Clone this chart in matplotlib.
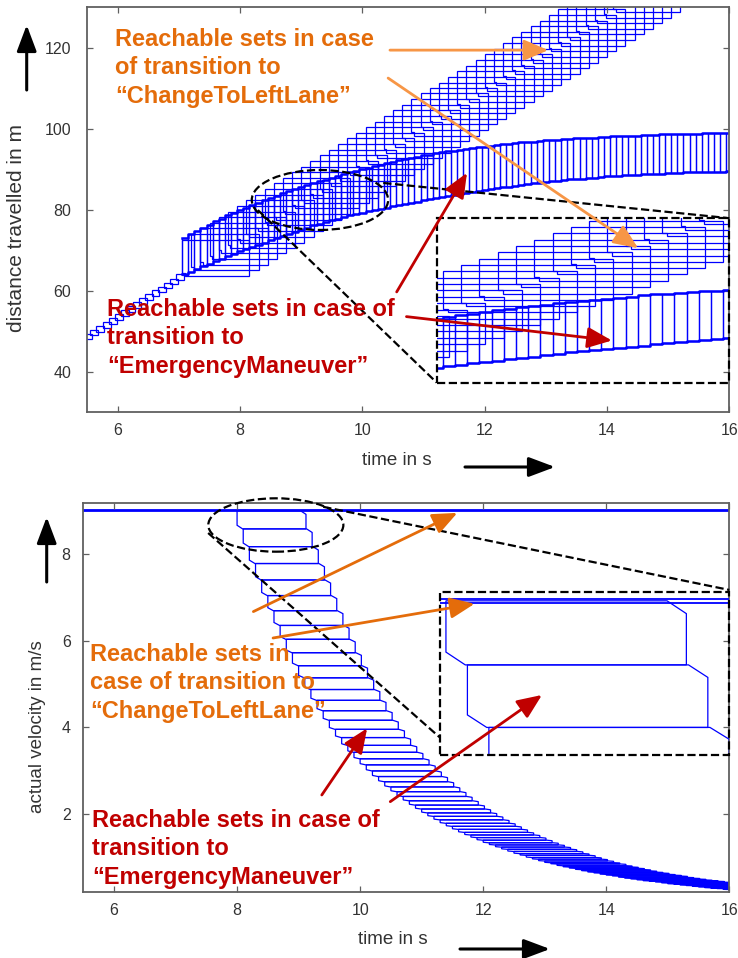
import matplotlib
matplotlib.use('Agg')
import matplotlib.pyplot as plt
from matplotlib.patches import Rectangle, Ellipse, Polygon, FancyArrowPatch

plt.rcParams['font.family'] = ['Liberation Sans', 'DejaVu Sans']

BLUE = '#0000FF'
ORANGE_TXT = '#E46C0A'
ORANGE_ARR = '#F79646'
RED = '#C00000'
GRAY = '#606060'

# ---------------- distance over time (top panel) ----------------
# boxes before the transition (same for both maneuvers)
pre_t = [5.45, 5.55, 5.65, 5.75, 5.85, 5.95, 6.05, 6.15, 6.25, 6.35, 6.45, 6.55, 6.65, 6.75, 6.85, 6.95]
pre_lo = [48.0, 49.0, 49.9, 50.9, 51.9, 52.8, 53.8, 54.8, 55.8, 56.7, 57.7, 58.7, 59.6, 60.6, 61.6, 62.6]
pre_hi = [49.4, 50.4, 51.3, 52.3, 53.3, 54.2, 55.2, 56.2, 57.2, 58.1, 59.1, 60.1, 61.0, 62.0, 63.0, 64.0]

# ChangeToLeftLane reachable sets
cl_t0 = [7.05, 7.20, 7.35, 7.50, 7.65, 7.80, 7.95, 8.10, 8.25, 8.40, 8.55, 8.70, 8.85, 9.00, 9.15, 9.30,
         9.45, 9.60, 9.75, 9.90, 10.05, 10.20, 10.35, 10.50, 10.65, 10.80, 10.95, 11.10, 11.25, 11.40,
         11.55, 11.70, 11.85, 12.00, 12.15, 12.30, 12.45, 12.60, 12.75, 12.90, 13.05, 13.20, 13.35,
         13.50, 13.65, 13.80, 13.95, 14.10]
cl_t1 = [8.15, 8.30, 8.45, 8.60, 8.75, 8.90, 9.05, 9.20, 9.35, 9.50, 9.65, 9.80, 9.95, 10.10, 10.25,
         10.40, 10.55, 10.70, 10.85, 11.00, 11.15, 11.30, 11.45, 11.60, 11.75, 11.90, 12.05, 12.20,
         12.35, 12.50, 12.65, 12.80, 12.95, 13.10, 13.25, 13.40, 13.55, 13.70, 13.85, 14.00, 14.15,
         14.30, 14.45, 14.60, 14.75, 14.90, 15.05, 15.20]
cl_lo = [63.6, 65.0, 66.4, 67.8, 69.2, 70.5, 71.9, 73.3, 74.7, 76.1, 77.5, 78.9, 80.3, 81.6, 83.0, 84.4,
         85.8, 87.2, 88.6, 90.0, 91.4, 92.7, 94.1, 95.5, 96.9, 98.3, 99.7, 101.1, 102.4, 103.8, 105.2,
         106.6, 108.0, 109.4, 110.8, 112.2, 113.6, 114.9, 116.3, 117.7, 119.1, 120.5, 121.9, 123.3,
         124.7, 126.0, 127.4, 128.8]
cl_hi = [72.6, 74.0, 75.4, 76.8, 78.2, 79.5, 80.9, 82.3, 83.7, 85.1, 86.5, 87.9, 89.3, 90.6, 92.0, 93.4,
         94.8, 96.2, 97.6, 99.0, 100.4, 101.7, 103.1, 104.5, 105.9, 107.3, 108.7, 110.1, 111.4, 112.8,
         114.2, 115.6, 117.0, 118.4, 119.8, 121.2, 122.6, 123.9, 125.3, 126.7, 128.1, 129.5, 130.9,
         132.3, 133.7, 135.0, 136.4, 137.8]

# EmergencyManeuver reachable sets
em_t = [7.05, 7.15, 7.25, 7.35, 7.45, 7.55, 7.65, 7.75, 7.85, 7.95,
        8.05, 8.15, 8.25, 8.35, 8.45, 8.55, 8.65, 8.75, 8.85, 8.95,
        9.05, 9.15, 9.25, 9.35, 9.45, 9.55, 9.65, 9.75, 9.85, 9.95,
        10.05, 10.15, 10.25, 10.35, 10.45, 10.55, 10.65, 10.75, 10.85, 10.95,
        11.05, 11.15, 11.25, 11.35, 11.45, 11.55, 11.65, 11.75, 11.85, 11.95,
        12.05, 12.15, 12.25, 12.35, 12.45, 12.55, 12.65, 12.75, 12.85, 12.95,
        13.05, 13.15, 13.25, 13.35, 13.45, 13.55, 13.65, 13.75, 13.85, 13.95,
        14.05, 14.15, 14.25, 14.35, 14.45, 14.55, 14.65, 14.75, 14.85, 14.95,
        15.05, 15.15, 15.25, 15.35, 15.45, 15.55, 15.65, 15.75, 15.85, 15.95]
em_hi = [73.0, 73.9, 74.7, 75.5, 76.3, 77.1, 77.8, 78.6, 79.3, 79.9,
         80.5, 81.1, 81.7, 82.3, 82.9, 83.4, 84.0, 84.5, 85.0, 85.5,
         86.0, 86.5, 87.0, 87.4, 87.9, 88.3, 88.8, 89.2, 89.6, 90.0,
         90.4, 90.8, 91.1, 91.5, 91.8, 92.2, 92.5, 92.8, 93.1, 93.4,
         93.6, 93.9, 94.2, 94.4, 94.6, 94.8, 95.1, 95.3, 95.4, 95.6,
         95.8, 96.0, 96.1, 96.3, 96.4, 96.6, 96.7, 96.8, 97.0, 97.1,
         97.2, 97.3, 97.4, 97.5, 97.6, 97.6, 97.7, 97.8, 97.9, 98.0,
         98.1, 98.2, 98.2, 98.3, 98.3, 98.4, 98.5, 98.5, 98.6, 98.6,
         98.7, 98.7, 98.8, 98.8, 98.8, 98.9, 98.9, 98.9, 99.0, 99.0]
em_lo = [64.0, 64.7, 65.3, 66.0, 66.6, 67.3, 67.9, 68.5, 69.1, 69.7,
         70.3, 70.8, 71.4, 71.9, 72.5, 73.0, 73.6, 74.1, 74.6, 75.1,
         75.6, 76.1, 76.5, 77.0, 77.4, 77.8, 78.2, 78.6, 79.0, 79.3,
         79.6, 79.9, 80.2, 80.5, 80.8, 81.1, 81.4, 81.7, 82.0, 82.3,
         82.6, 82.9, 83.1, 83.4, 83.6, 83.9, 84.1, 84.4, 84.6, 84.9,
         85.1, 85.3, 85.5, 85.7, 85.9, 86.1, 86.3, 86.5, 86.7, 86.9,
         87.1, 87.2, 87.3, 87.5, 87.6, 87.7, 87.8, 87.9, 88.1, 88.2,
         88.3, 88.4, 88.5, 88.5, 88.6, 88.7, 88.8, 88.8, 88.9, 89.0,
         89.1, 89.1, 89.2, 89.2, 89.3, 89.3, 89.4, 89.4, 89.4, 89.5]

# ---------------- velocity over time (bottom panel) ----------------
lane_speed = 9.0
vel_t0 = [8.0, 8.1, 8.2, 8.3, 8.4, 8.5, 8.6, 8.7, 8.8, 8.9,
          9.0, 9.1, 9.2, 9.3, 9.4, 9.5, 9.6, 9.7, 9.8, 9.9,
          10.0, 10.1, 10.2, 10.3, 10.4, 10.5, 10.6, 10.7, 10.8, 10.9,
          11.0, 11.1, 11.2, 11.3, 11.4, 11.5, 11.6, 11.7, 11.8, 11.9,
          12.0, 12.1, 12.2, 12.3, 12.4, 12.5, 12.6, 12.7, 12.8, 12.9,
          13.0, 13.1, 13.2, 13.3, 13.4, 13.5, 13.6, 13.7, 13.8, 13.9,
          14.0, 14.1, 14.2, 14.3, 14.4, 14.5, 14.6, 14.7, 14.8, 14.9,
          15.0, 15.1, 15.2, 15.3, 15.4, 15.5, 15.6, 15.7, 15.8, 15.9]
vel_edges = [9.00, 8.58, 8.17, 7.78, 7.40, 7.04, 6.69, 6.35, 6.03, 5.72,
             5.42, 5.14, 4.87, 4.62, 4.38, 4.16, 3.95, 3.76, 3.58, 3.42,
             3.27, 3.13, 2.99, 2.86, 2.74, 2.62, 2.51, 2.40, 2.30, 2.20,
             2.11, 2.02, 1.94, 1.86, 1.78, 1.71, 1.64, 1.57, 1.51, 1.45,
             1.39, 1.33, 1.28, 1.23, 1.18, 1.13, 1.08, 1.04, 0.99, 0.95,
             0.91, 0.87, 0.84, 0.80, 0.77, 0.74, 0.71, 0.68, 0.65, 0.63,
             0.60, 0.58, 0.56, 0.53, 0.51, 0.49, 0.47, 0.45, 0.44, 0.42,
             0.40, 0.38, 0.37, 0.35, 0.34, 0.32, 0.31, 0.29, 0.28, 0.27,
             0.25]

# sizes of the drawn sets
PRE_W = 0.13
EM_W = 0.1
VEL_W = 1.12
CHAMFER_T = 0.09
LANE_HALF = 0.015
NOTCH_T = 0.04
NOTCH_V = 0.8
LW = 0.9

FIG_W, FIG_H = 738, 958


def px_rect(left, top, right, bottom):
    return [left / FIG_W, 1 - bottom / FIG_H, (right - left) / FIG_W, (bottom - top) / FIG_H]


def fp(x, y):
    return (x / FIG_W, 1 - y / FIG_H)


def draw_distance_sets(ax):
    for t0, lo, hi in zip(pre_t, pre_lo, pre_hi):
        ax.add_patch(Rectangle((t0, lo), PRE_W, hi - lo, fill=False, ec=BLUE, lw=LW))
    for t0, t1, lo, hi in zip(cl_t0, cl_t1, cl_lo, cl_hi):
        # sets are drawn with a small step at the lower left corner
        pts = [(t0, hi), (t1, hi), (t1, lo), (t0 + NOTCH_T, lo),
               (t0 + NOTCH_T, lo + NOTCH_V), (t0, lo + NOTCH_V)]
        ax.add_patch(Polygon(pts, closed=True, fill=False, ec=BLUE, lw=LW))
    for t0, lo, hi in zip(em_t, em_lo, em_hi):
        ax.add_patch(Rectangle((t0, lo), EM_W, hi - lo, fill=False, ec=BLUE, lw=LW))
    ax.step(em_t + [em_t[-1] + EM_W], em_hi + [em_hi[-1]], where='post', color=BLUE, lw=1.8)
    ax.step(em_t + [em_t[-1] + EM_W], em_lo + [em_lo[-1]], where='post', color=BLUE, lw=1.8)


def draw_velocity_sets(ax):
    ax.add_patch(Rectangle((5.4, lane_speed - LANE_HALF), 10.7, 2 * LANE_HALF,
                           fill=False, ec=BLUE, lw=1.3))
    for k, t0 in enumerate(vel_t0):
        vhi, vlo = vel_edges[k], vel_edges[k + 1]
        t1 = t0 + VEL_W
        cv = 0.2 * (vhi - vlo)
        pts = [(t0, vhi), (t1 - CHAMFER_T, vhi), (t1, vhi - cv), (t1, vlo),
               (t0 + CHAMFER_T, vlo), (t0, vlo + cv)]
        ax.add_patch(Polygon(pts, closed=True, fill=False, ec=BLUE, lw=LW))


def style_axes(ax, ypad):
    for sp in ax.spines.values():
        sp.set_color(GRAY)
        sp.set_linewidth(1.3)
    ax.tick_params(direction='in', top=True, right=True, length=4, width=0.9,
                   colors=GRAY, labelcolor='#333333', labelsize=11.5)
    ax.tick_params(axis='x', pad=8)
    ax.tick_params(axis='y', pad=ypad)


def arrow(ax, start, tip, color):
    ax.annotate('', xy=tip, xytext=start,
                arrowprops=dict(arrowstyle='-|>,head_length=0.75,head_width=0.32', color=color,
                                lw=2.0, mutation_scale=20, shrinkA=0, shrinkB=0),
                zorder=10, annotation_clip=False)


fig = plt.figure(figsize=(7.38, 9.58), dpi=100)

# ---------------- top panel ----------------
ax1 = fig.add_axes(px_rect(87.3, 7.2, 729.3, 412.2))
ax1.set_xlim(5.5, 16)
ax1.set_ylim(30, 130)
ax1.set_xticks([6, 8, 10, 12, 14, 16])
ax1.set_yticks([40, 60, 80, 100, 120])
style_axes(ax1, 11.5)
draw_distance_sets(ax1)

# magnified view
ins1 = ax1.inset_axes([11.215, 37.3, 4.785, 40.6], transform=ax1.transData)
ins1.set_xlim(10.0, 12.4)
ins1.set_ylim(76, 112)
ins1.axis('off')
draw_distance_sets(ins1)

ax1.add_patch(Rectangle((11.215, 37.3), 4.785, 40.6, fill=False, ls='--', ec='k', lw=1.6,
                        zorder=6, clip_on=False))
ax1.add_patch(Ellipse((9.305, 82.4), 2.23, 14.8, fill=False, ls='--', ec='k', lw=1.6, zorder=6))
ax1.plot([10.34, 16], [86.6, 77.9], ls='--', color='k', lw=1.6, zorder=6, clip_on=False)
ax1.plot([8.29, 11.215], [79.9, 37.3], ls='--', color='k', lw=1.6, zorder=6)

arrow(ax1, (10.45, 119.4), (13.04, 119.4), ORANGE_ARR)
arrow(ax1, (10.42, 112.5), (14.51, 70.5), ORANGE_ARR)
arrow(ax1, (10.56, 59.7), (11.71, 89.1), RED)
arrow(ax1, (10.72, 53.6), (14.08, 47.7), RED)

# ---------------- bottom panel ----------------
ax2 = fig.add_axes(px_rect(83.25, 502.7, 729.3, 891.7))
ax2.set_xlim(5.5, 16)
ax2.set_ylim(0.2, 9.185)
ax2.set_xticks([6, 8, 10, 12, 14, 16])
ax2.set_yticks([2, 4, 6, 8])
style_axes(ax2, 9)
draw_velocity_sets(ax2)

ins2 = ax2.inset_axes([11.29, 3.36, 4.71, 3.77], transform=ax2.transData)
ins2.set_xlim(7.97, 9.32)
ins2.set_ylim(7.99, 9.06)
ins2.axis('off')
draw_velocity_sets(ins2)

ax2.add_patch(Rectangle((11.29, 3.36), 4.71, 3.77, fill=False, ls='--', ec='k', lw=1.6,
                        zorder=6, clip_on=False))
ax2.add_patch(Ellipse((8.63, 8.67), 2.195, 1.233, fill=False, ls='--', ec='k', lw=1.6,
                      zorder=6, clip_on=False))
ax2.plot([7.53, 11.29], [8.485, 3.77], ls='--', color='k', lw=1.6, zorder=6)
ax2.plot([9.40, 16], [9.09, 7.17], ls='--', color='k', lw=1.6, zorder=6, clip_on=False)

arrow(ax2, (8.265, 6.67), (11.58, 8.95), ORANGE_TXT)
arrow(ax2, (8.585, 6.06), (11.86, 6.85), ORANGE_TXT)
arrow(ax2, (9.377, 2.434), (10.114, 3.975), RED)
arrow(ax2, (10.49, 2.28), (12.955, 4.744), RED)

# ---------------- texts ----------------
txt = dict(fontsize=17, fontweight='bold', ha='left', va='top', linespacing=1.3)
fig.text(*fp(115, 28), 'Reachable sets in case\nof transition to\n\u201cChangeToLeftLane\u201d',
         color=ORANGE_TXT, **txt)
fig.text(*fp(107, 298), 'Reachable sets in case of\ntransition to\n\u201cEmergencyManeuver\u201d',
         color=RED, **txt)
fig.text(*fp(90, 643), 'Reachable sets in\ncase of transition to\n\u201cChangeToLeftLane\u201d',
         color=ORANGE_TXT, **txt)
fig.text(*fp(92, 809), 'Reachable sets in case of\ntransition to\n\u201cEmergencyManeuver\u201d',
         color=RED, **txt)

lab = dict(color='#333333', ha='center', va='center')
fig.text(*fp(17, 228), 'distance travelled in m', rotation=90, fontsize=15, **lab)
fig.text(*fp(397, 461), 'time in s', fontsize=13.5, **lab)
fig.text(*fp(38, 727), 'actual velocity in m/s', rotation=90, fontsize=13.5, **lab)
fig.text(*fp(393, 940), 'time in s', fontsize=13.5, **lab)

# black direction arrows outside the axes
for start, tip in [((26.7, 90), (26.7, 25)), ((465, 467), (555, 467)),
                   ((46.7, 582), (46.7, 517)), ((460, 949), (550, 949))]:
    fig.add_artist(FancyArrowPatch(
        fp(*start), fp(*tip), transform=fig.transFigure,
        arrowstyle='-|>,head_length=0.8,head_width=0.3', mutation_scale=20,
        color='k', lw=2.2, shrinkA=0, shrinkB=0))

fig.savefig('out.png', dpi=100, facecolor='white')
